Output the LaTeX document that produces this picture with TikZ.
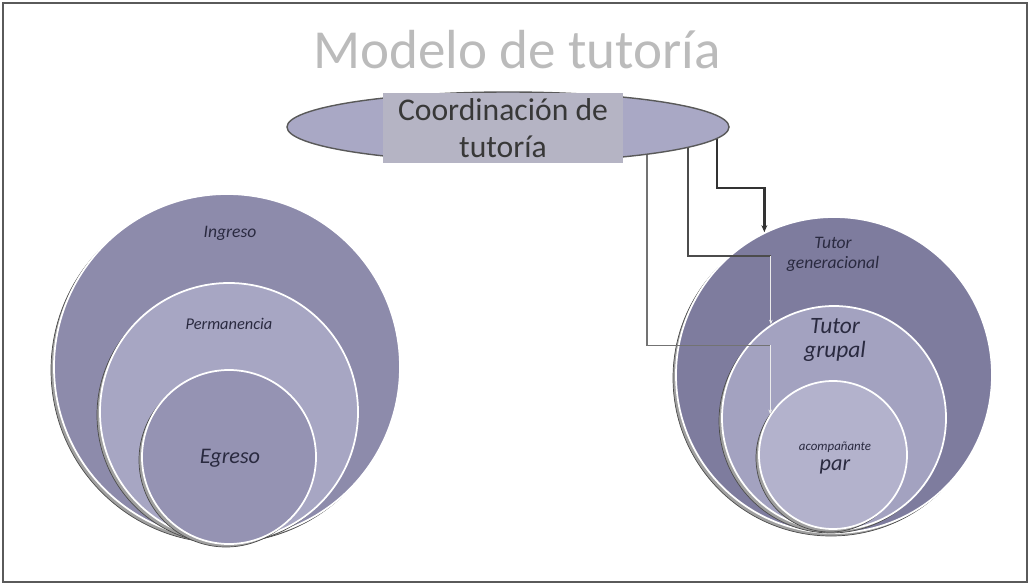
\documentclass[tikz,border=0pt]{standalone}
\usepackage{fontspec}
\setmainfont{Carlito}
\usetikzlibrary{shapes.geometric,arrows.meta,calc}
\pgfdeclarelayer{top}
\pgfsetlayers{main,top}
\definecolor{lout}{HTML}{8D8BAB}
\definecolor{lmid}{HTML}{A7A6C3}
\definecolor{linn}{HTML}{9593B3}
\definecolor{rout}{HTML}{7E7C9E}
\definecolor{rmid}{HTML}{A3A2C0}
\definecolor{rinn}{HTML}{B3B2CC}
\definecolor{ellfill}{HTML}{A9A8C5}
\definecolor{rectfill}{HTML}{B5B4C4}
\definecolor{txt}{HTML}{2A2A40}
\definecolor{titlec}{HTML}{BBBBBB}
\definecolor{framec}{HTML}{5A5A5A}
\begin{document}
\begin{tikzpicture}[x=0.03cm,y=-0.03cm,
  frame/.style={draw=framec,line width=1.6pt},
  titletext/.style={font=\fontsize{47}{50}\selectfont,text=titlec,anchor=base,inner sep=0},
  ellbox/.style={ellipse,fill=ellfill,draw=gray!70!black,line width=1.2pt,inner sep=0,minimum width=13.26cm,minimum height=2.1cm},
  coordbox/.style={rectangle,fill=rectfill,inner sep=0,minimum width=7.17cm,minimum height=2.1cm,align=center,text=black!78,font=\fontsize{27}{31}\selectfont},
  circ/.style={circle,draw=white,line width=1.5pt,inner sep=0},
  shad/.style={fill=gray!75,draw=gray!60!black,line width=0.6pt},
  lbl/.style={text=txt,align=center,inner sep=0,font=\itshape},
  c1/.style={draw=black!80,line width=2pt,-{Stealth[length=6pt,width=5pt]}},
  c2/.style={draw=black!70,line width=1.6pt},
  c3/.style={draw=black!55,line width=1.1pt},
  clight/.style={draw=white!85!gray,line width=0.8pt,-{Stealth[length=4pt,width=3pt]}}
]
\useasboundingbox (0,0) rectangle (1030,587);
\draw[frame] (3,3) rectangle (1027,582);
\node[titletext] (title) at (517,68) {Modelo de tutoría};

\begin{pgfonlayer}{top}
\node[ellbox] (coord) at (508,127) {};
\node[coordbox] (coordtext) at (503,128) {Coordinación de\\tutoría};
\end{pgfonlayer}

% left circles
\draw[shad] (224,370) circle (173);
\node[circ,fill=lout,minimum size=10.38cm] (ingreso) at (227,367) {};
\draw[shad] (226,415) circle (129);
\node[circ,fill=lmid,minimum size=7.74cm] (perm) at (229,412) {};
\draw[shad] (226,460) circle (87);
\node[circ,fill=linn,minimum size=5.22cm] (egreso) at (229,457) {};
\node[lbl,font=\fontsize{15}{18}\selectfont\itshape] (lingreso) at (230,233) {Ingreso};
\node[lbl,font=\fontsize{14}{17}\selectfont\itshape] (lperm) at (229,324) {Permanencia};
\node[lbl,font=\fontsize{19}{22}\selectfont\itshape] (legreso) at (230,458) {Egreso};

% right circles
\draw[shad] (831,378) circle (158);
\node[circ,fill=rout,minimum size=9.48cm] (gen) at (834,375) {};
\draw[shad] (831,421) circle (112);
\node[circ,fill=rmid,minimum size=6.72cm] (grupal) at (834,418) {};
\draw[shad] (830,458) circle (74);
\node[circ,fill=rinn,minimum size=4.44cm] (par) at (833,455) {};
\node[lbl,font=\fontsize{15}{17}\selectfont\itshape] (lgen) at (833,254) {Tutor\\generacional};
\node[lbl,font=\fontsize{20}{21}\selectfont\itshape] (lgrupal) at (835,340) {Tutor\\grupal};
\node[lbl,font=\fontsize{11}{17}\selectfont\itshape] (lpar1) at (835,447) {acompañante};
\node[lbl,font=\fontsize{19}{22}\selectfont\itshape] (lpar2) at (835,467) {par};

% connectors
\draw[c1] ($(coord.center)+(209,0)$) |- ($(gen.116)+(0,-44)$) -- (gen.116);
\draw[c2] ($(coord.center)+(180,0)$) |- ($(grupal.124)+(0,-68)$);
\draw[clight] ($(grupal.124)+(0,-68)$) -- (grupal.124);
\draw[c3] ($(coord.center)+(139,0)$) |- ($(par.147)+(0,-69)$);
\draw[clight] ($(par.147)+(0,-69)$) -- (par.147);
\end{tikzpicture}
\end{document}
